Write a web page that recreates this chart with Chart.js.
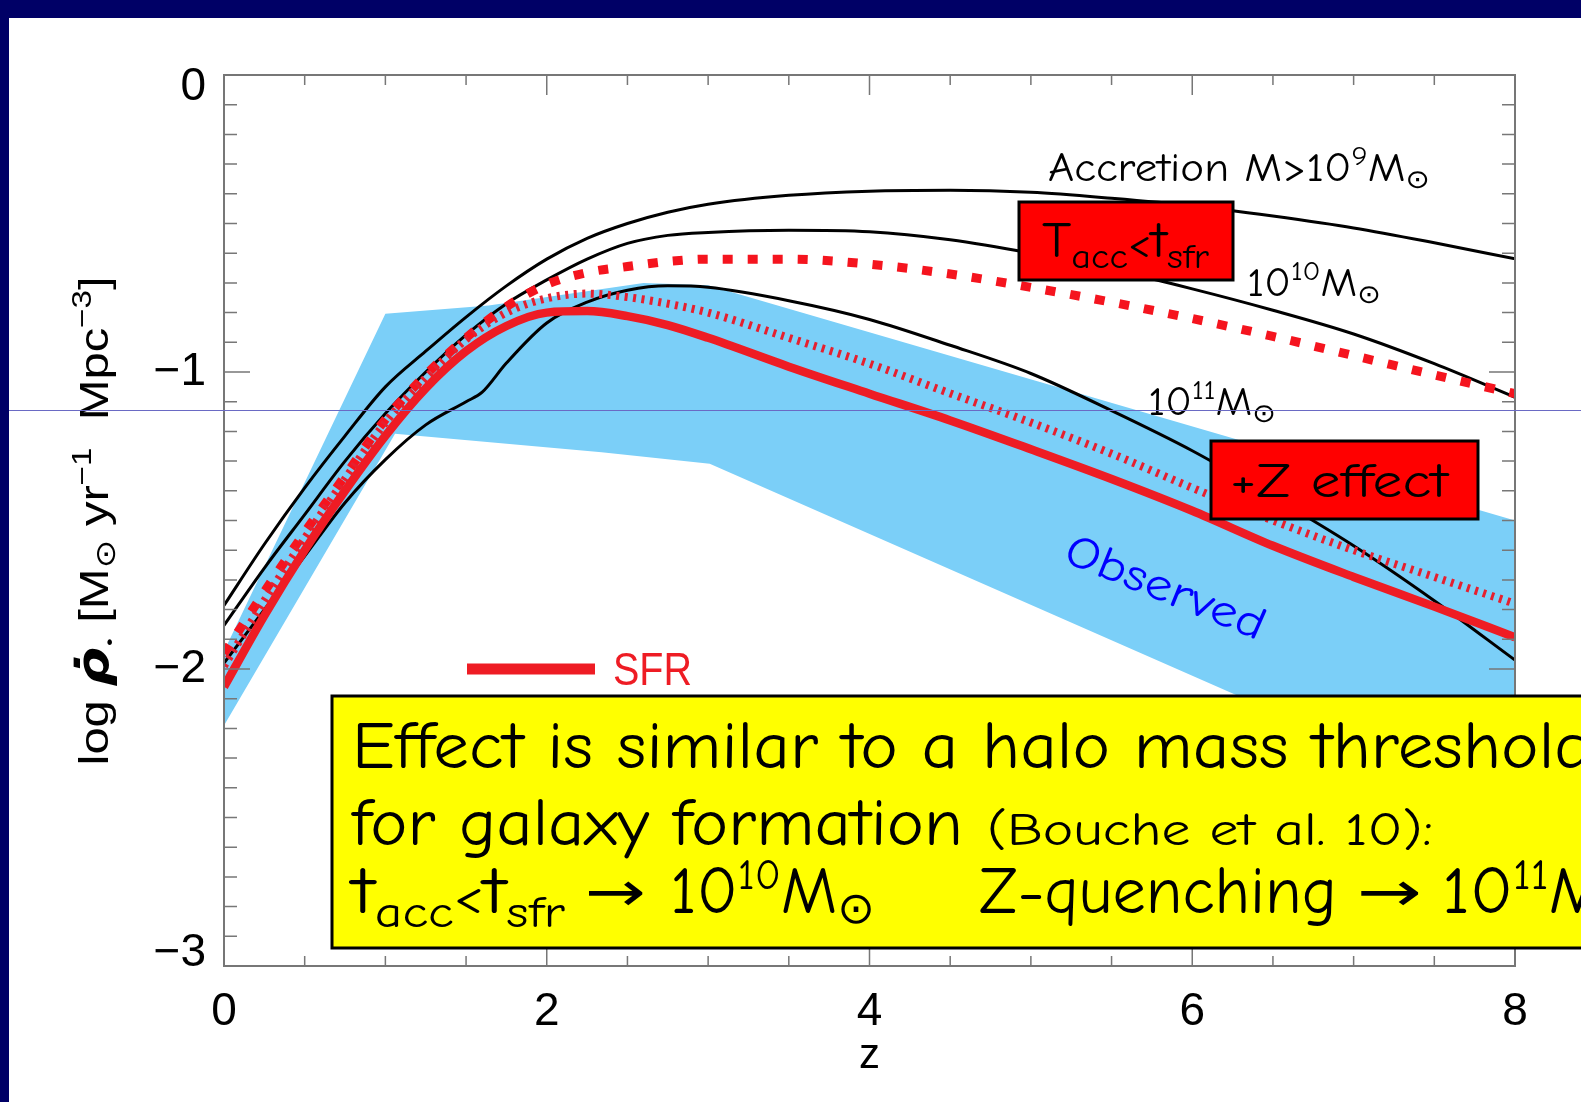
<!DOCTYPE html>
<html>
<head>
<meta charset="utf-8">
<style>
  html, body { margin: 0; padding: 0; background: #000066; }
  canvas { display: block; }
</style>
<script src="https://cdn.jsdelivr.net/npm/chart.js@4.4.1/dist/chart.umd.min.js"></script>
</head>
<body>
<canvas id="sfrChart" width="1581" height="1102"></canvas>
<script>
'use strict';

// redshift grid shared by most curves
var zGrid = [0, 0.25, 0.5, 0.75, 1, 1.25, 1.5, 1.75, 2, 2.25, 2.5, 2.75, 3, 3.5, 4, 4.5, 5, 5.5, 6, 6.5, 7, 7.5, 8];

// accretion rate curves (log rho dot)
var accr9  = [-1.786, -1.58, -1.39, -1.215, -1.05, -0.93, -0.815, -0.71, -0.62, -0.55, -0.50, -0.462, -0.435, -0.405, -0.391, -0.388, -0.395, -0.415, -0.44, -0.475, -0.515, -0.565, -0.619];
var accr10 = [-1.853, -1.66, -1.48, -1.30, -1.14, -1.00, -0.875, -0.77, -0.69, -0.62, -0.567, -0.54, -0.53, -0.523, -0.528, -0.555, -0.60, -0.655, -0.72, -0.792, -0.872, -0.972, -1.085];
var zAccr11 = [0, 0.25, 0.5, 0.75, 1, 1.25, 1.5, 1.6, 1.75, 2, 2.25, 2.5, 2.75, 3, 3.5, 4, 4.5, 5, 5.5, 6, 6.5, 7, 7.5, 8];
var accr11 = [-1.98, -1.80, -1.62, -1.44, -1.295, -1.178, -1.10, -1.068, -0.97, -0.835, -0.765, -0.725, -0.71, -0.715, -0.76, -0.823, -0.91, -1.005, -1.13, -1.265, -1.42, -1.585, -1.77, -1.97];

// model SFR curves
var tAccSfr = [-1.948, -1.74, -1.54, -1.35, -1.16, -1.01, -0.885, -0.78, -0.705, -0.665, -0.645, -0.628, -0.62, -0.62, -0.637, -0.67, -0.715, -0.765, -0.82, -0.88, -0.945, -1.01, -1.073];
var zEffect = [-1.99, -1.77, -1.56, -1.36, -1.17, -1.02, -0.89, -0.80, -0.752, -0.736, -0.748, -0.77, -0.80, -0.885, -0.972, -1.072, -1.17, -1.275, -1.39, -1.50, -1.60, -1.69, -1.78];
var sfrModel = [-2.06, -1.82, -1.60, -1.40, -1.215, -1.055, -0.93, -0.845, -0.80, -0.795, -0.812, -0.842, -0.885, -0.982, -1.073, -1.163, -1.26, -1.36, -1.467, -1.585, -1.69, -1.79, -1.893];

// observed band
var bandTopZ = [0, 1.0, 1.64, 2.6, 3.0, 8];
var bandTop  = [-1.94, -0.804, -0.776, -0.70, -0.708, -1.50];
var bandLowZ = [0, 1.06, 2.34, 3.01, 8];
var bandLow  = [-2.19, -1.208, -1.27, -1.309, -2.50];

// tick labels
var yTickValues = [0, -1, -2, -3];
var yTickLabels = [['', '0'], '\u22121', '\u22122', ['\u22123', '']];

var COMIC = '"Comic Sans MS", "Comic Neue", "Open Sans", sans-serif';
var SANS = '"Liberation Sans", Arial, sans-serif';
var SYM = '"DejaVu Sans", sans-serif';

function pts(xs, ys) {
  return xs.map(function (x, i) { return { x: x, y: ys[i] }; });
}

function R(t, s, dy, f, st) {
  return { t: t, s: s, dy: dy || 0, f: f || COMIC, st: st || '' };
}

// draws a run of text pieces, squeezed to the given width
function drawRich(ctx, runs, x, y, width, color) {
  var total = 0;
  runs.forEach(function (r) {
    ctx.font = r.st + ' ' + r.s + 'px ' + r.f;
    r.adv = ctx.measureText(r.t).width;
    total += r.adv;
  });
  var k = width ? width / total : 1;
  ctx.save();
  ctx.translate(x, y);
  ctx.scale(k, 1);
  ctx.fillStyle = color || '#000';
  ctx.textAlign = 'left';
  ctx.textBaseline = 'alphabetic';
  var cx = 0;
  runs.forEach(function (r) {
    ctx.font = r.st + ' ' + r.s + 'px ' + r.f;
    ctx.fillText(r.t, cx, r.dy);
    cx += r.adv;
  });
  ctx.restore();
}

function box(ctx, x, y, w, h, fill) {
  ctx.save();
  ctx.fillStyle = fill;
  ctx.fillRect(x, y, w, h);
  ctx.strokeStyle = '#000';
  ctx.lineWidth = 3;
  ctx.strokeRect(x, y, w, h);
  ctx.restore();
}

var slideBg = {
  id: 'slideBg',
  beforeDraw: function (chart) {
    var ctx = chart.ctx;
    ctx.save();
    ctx.fillStyle = '#000066';
    ctx.fillRect(0, 0, chart.width, chart.height);
    ctx.fillStyle = '#ffffff';
    ctx.fillRect(9, 18, chart.width - 9, chart.height - 18);
    ctx.restore();
  }
};

// box round the plot with inward ticks on all four sides
var frame = {
  id: 'frame',
  afterDatasetsDraw: function (chart) {
    var ctx = chart.ctx, a = chart.chartArea;
    var xs = chart.scales.x, ys = chart.scales.y;
    ctx.save();
    ctx.strokeStyle = '#777';
    ctx.lineWidth = 2;
    ctx.strokeRect(a.left, a.top, a.right - a.left, a.bottom - a.top);
    ctx.lineWidth = 1.5;
    ctx.beginPath();
    var i, v, p, len;
    for (i = 0; i <= 16; i++) {
      v = i * 0.5;
      p = xs.getPixelForValue(v);
      len = (i % 4 === 0) ? 20 : 10;
      ctx.moveTo(p, a.bottom); ctx.lineTo(p, a.bottom - len);
      ctx.moveTo(p, a.top); ctx.lineTo(p, a.top + len);
    }
    for (i = 0; i <= 30; i++) {
      v = -i / 10;
      p = ys.getPixelForValue(v);
      len = (i % 10 === 0) ? 26 : 13;
      ctx.moveTo(a.left, p); ctx.lineTo(a.left + len, p);
      ctx.moveTo(a.right, p); ctx.lineTo(a.right - len, p);
    }
    ctx.stroke();
    ctx.restore();
  }
};

var notes = {
  id: 'notes',
  afterDraw: function (chart) {
    var ctx = chart.ctx;

    // y axis title
    ctx.save();
    ctx.translate(108, 521.5);
    ctx.rotate(-Math.PI / 2);
    drawRich(ctx, [
      R('log ', 40, 0, SANS), R('\u03C1\u0307', 44, 0, SYM, 'italic bold'), R('\u2022', 16, 8, SYM),
      R(' [M', 40, 0, SANS), R('\u2299', 28, 7, SYM), R(' yr', 40, 0, SANS), R('\u22121', 27, -17, SANS),
      R('  Mpc', 40, 0, SANS), R('\u22123', 27, -17, SANS), R(']', 40, 0, SANS)
    ], -244, 0, 489);
    ctx.restore();

    // accretion labels
    drawRich(ctx, [R('Accretion M>10', 40), R('9', 27, -16), R('M', 40), R('\u2299', 26, 7, SYM)], 1048, 181, 382);
    drawRich(ctx, [R('10', 40), R('10', 27, -16), R('M', 40), R('\u2299', 26, 7, SYM)], 1247, 296, 134);
    drawRich(ctx, [R('10', 40), R('11', 27, -16), R('M', 40), R('\u2299', 26, 7, SYM)], 1148, 415, 128);

    // red boxes
    box(ctx, 1019, 202, 214, 78, '#ff0000');
    drawRich(ctx, [R('T', 50), R('acc', 34, 11), R('<', 40), R('t', 50), R('sfr', 34, 11)], 1042, 257, 167);
    box(ctx, 1211, 441, 267, 78, '#ff0000');
    drawRich(ctx, [R('+Z effect', 48)], 1230, 497, 218);

    // observed label
    ctx.save();
    ctx.translate(1166, 586);
    ctx.rotate(22 * Math.PI / 180);
    drawRich(ctx, [R('Observed', 46)], -106, 16, 212, '#0000ff');
    ctx.restore();

    // SFR key
    ctx.save();
    ctx.strokeStyle = '#ee1c24';
    ctx.lineWidth = 11;
    ctx.beginPath();
    ctx.moveTo(467, 669); ctx.lineTo(595, 669);
    ctx.stroke();
    ctx.restore();
    drawRich(ctx, [R('SFR', 46, 0, SANS)], 613, 685, 79, '#ee1c24');

    // yellow message box
    box(ctx, 332, 696, 1320, 252, '#ffff00');
    drawRich(ctx, [R('Effect is similar to a halo mass threshold', 66)], 352, 768, 1240);
    drawRich(ctx, [R('for galaxy formation', 66)], 352, 845, 611);
    drawRich(ctx, [R('(Bouche et al. 10):', 46)], 987, 845, 446);
    drawRich(ctx, [R('t', 66), R('acc', 44, 14), R('<', 48), R('t', 66), R('sfr', 44, 14)], 352, 913, 213);
    drawRich(ctx, [R('\u2192', 56, -2, SYM)], 585, 913, 61);
    drawRich(ctx, [R('10', 66), R('10', 42, -24), R('M', 66), R('\u2299', 44, 10, SYM)], 670, 913, 205);
    drawRich(ctx, [R('Z-quenching', 66)], 979, 913, 358);
    drawRich(ctx, [R('\u2192', 56, -2, SYM)], 1357, 913, 65);
    drawRich(ctx, [R('10', 66), R('11', 42, -24), R('M', 66), R('\u2299', 44, 10, SYM)], 1442, 913, 205);

    // thin slide guide line
    ctx.save();
    ctx.strokeStyle = '#6a6ac4';
    ctx.lineWidth = 1;
    ctx.beginPath();
    ctx.moveTo(9, 410.5); ctx.lineTo(chart.width, 410.5);
    ctx.stroke();
    ctx.restore();
  }
};

function curve(label, xs, ys, color, width, dash, order) {
  return {
    label: label,
    data: pts(xs, ys),
    borderColor: color,
    borderWidth: width,
    borderDash: dash,
    borderCapStyle: 'butt',
    pointRadius: 0,
    fill: false,
    cubicInterpolationMode: 'monotone',
    order: order
  };
}

new Chart(document.getElementById('sfrChart'), {
  type: 'line',
  data: {
    datasets: [
      {
        label: 'Observed', data: pts(bandTopZ, bandTop), borderWidth: 0, pointRadius: 0,
        backgroundColor: '#7bcff8', fill: '+1', tension: 0, order: 10
      },
      {
        label: 'Observed low', data: pts(bandLowZ, bandLow), borderWidth: 0, pointRadius: 0,
        fill: false, tension: 0, order: 10
      },
      curve('M>1e9', zGrid, accr9, '#000', 3, [], 5),
      curve('1e10', zGrid, accr10, '#000', 3, [], 5),
      curve('1e11', zAccr11, accr11, '#000', 3, [], 5),
      curve('tacc<tsfr', zGrid, tAccSfr, '#f5141e', 9, [10, 15], 3),
      curve('+Z effect', zGrid, zEffect, '#e5202f', 8, [3, 5.5], 2),
      curve('SFR', zGrid, sfrModel, '#ee1c24', 8.5, [], 1)
    ]
  },
  options: {
    responsive: false,
    devicePixelRatio: 1,
    animation: false,
    layout: { padding: { top: 75, right: 66, left: 0, bottom: 0 } },
    plugins: { legend: { display: false }, tooltip: { enabled: false } },
    scales: {
      x: {
        type: 'linear', min: 0, max: 8,
        grid: { display: false, drawTicks: false },
        border: { display: false },
        ticks: { stepSize: 2, maxRotation: 0, autoSkip: false, padding: 19, color: '#000',
          font: { family: SANS, size: 46 } },
        title: { display: true, text: 'z', color: '#000', font: { family: SANS, size: 42 },
          padding: { top: 0, bottom: 20 } },
        afterFit: function (s) { s.height = 136; s.paddingLeft = 0; s.paddingRight = 0; }
      },
      y: {
        type: 'linear', min: -3, max: 0,
        grid: { display: false, drawTicks: false },
        border: { display: false },
        ticks: {
          stepSize: 1, padding: 18, color: '#000',
          font: { family: SANS, size: 46, lineHeight: 0.55 },
          callback: function (v) {
            var i = yTickValues.indexOf(v);
            return i < 0 ? '' : yTickLabels[i];
          }
        },
        afterFit: function (s) { s.width = 224; s.paddingTop = 0; s.paddingBottom = 0; }
      }
    }
  },
  plugins: [slideBg, frame, notes]
});
</script>
</body>
</html>
